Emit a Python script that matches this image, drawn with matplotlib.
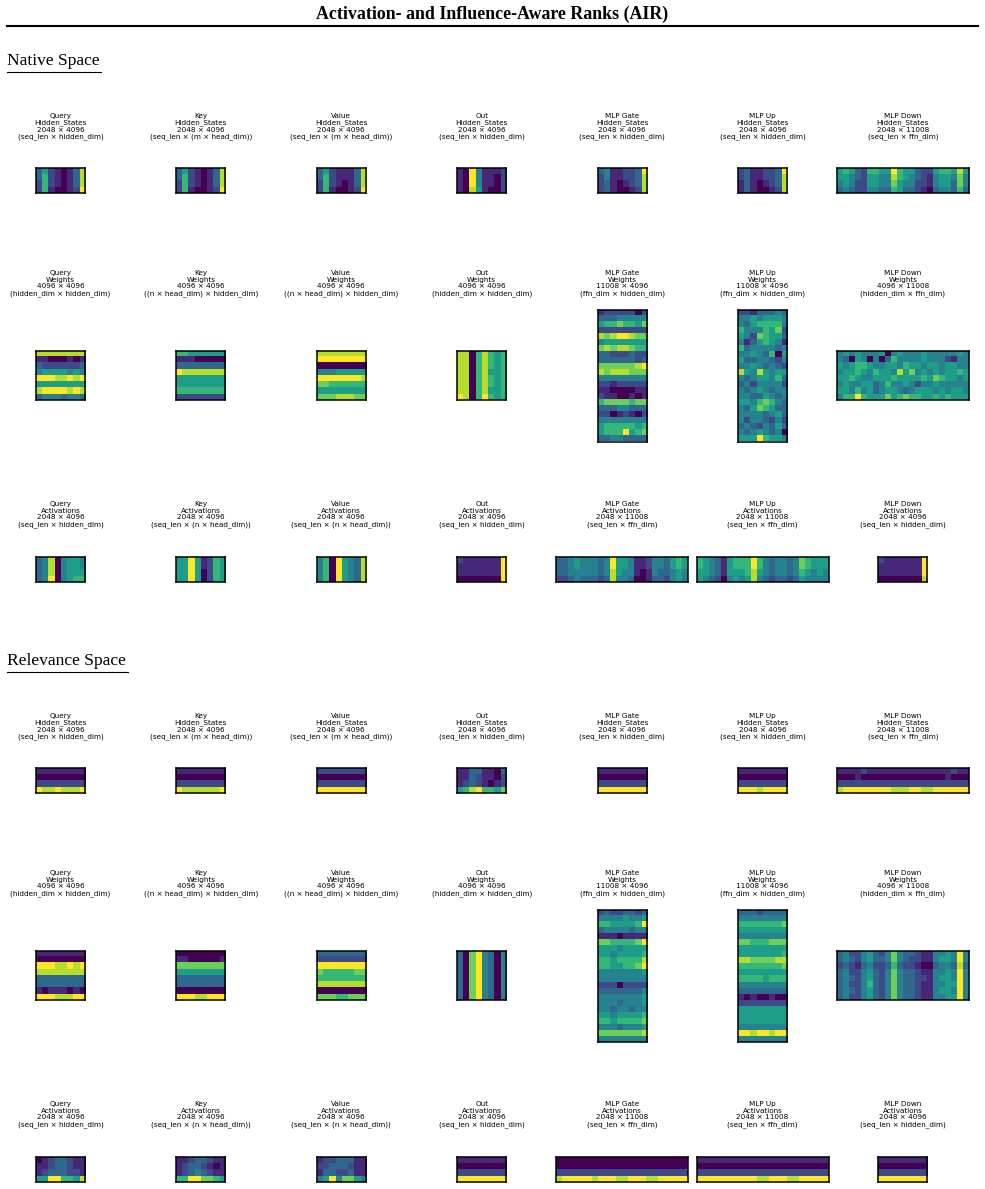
import numpy as np
import matplotlib
matplotlib.use("Agg")
import matplotlib.pyplot as plt
from matplotlib.lines import Line2D

plt.rcParams['font.family'] = ['DejaVu Sans']

W, H = 985, 1189

modules = ["Query", "Key", "Value", "Out", "MLP Gate", "MLP Up", "MLP Down"]
kinds = ["Hidden_States", "Weights", "Activations"]

hidden_shapes = [(2048, 4096)] * 6 + [(2048, 11008)]
hidden_dims = ["(seq_len \u00d7 hidden_dim)", "(seq_len \u00d7 (m \u00d7 head_dim))",
               "(seq_len \u00d7 (m \u00d7 head_dim))", "(seq_len \u00d7 hidden_dim)",
               "(seq_len \u00d7 hidden_dim)", "(seq_len \u00d7 hidden_dim)",
               "(seq_len \u00d7 ffn_dim)"]
weight_shapes = [(4096, 4096)] * 4 + [(11008, 4096), (11008, 4096), (4096, 11008)]
weight_dims = ["(hidden_dim \u00d7 hidden_dim)", "((n \u00d7 head_dim) \u00d7 hidden_dim)",
               "((n \u00d7 head_dim) \u00d7 hidden_dim)", "(hidden_dim \u00d7 hidden_dim)",
               "(ffn_dim \u00d7 hidden_dim)", "(ffn_dim \u00d7 hidden_dim)",
               "(hidden_dim \u00d7 ffn_dim)"]
act_shapes = [(2048, 4096)] * 4 + [(2048, 11008), (2048, 11008), (2048, 4096)]
act_dims = ["(seq_len \u00d7 hidden_dim)", "(seq_len \u00d7 (n \u00d7 head_dim))",
            "(seq_len \u00d7 (n \u00d7 head_dim))", "(seq_len \u00d7 hidden_dim)",
            "(seq_len \u00d7 ffn_dim)", "(seq_len \u00d7 ffn_dim)",
            "(seq_len \u00d7 hidden_dim)"]

# ---- native space on a 0..9 scale ----
nq_hs = ["35210138", "36210138", "26210138", "26100129"]
nk_hs = ["35210138", "36210138", "26210138", "26100129"]
nv_hs = ["35211138", "36211138", "26210138", "26100129"]
no_hs = ["10941112", "10941102", "10941102", "10851002"]
ng_hs = ["34112239", "24112238", "23101238", "23100128"]
nu_hs = ["23112239", "23112238", "13101238", "13100128"]
nd_hs = ["5653266559655322566585", "5543255448654321455474",
         "4542255447544221455374", "3432244336533210344363"]

nq_w = ["88888888", "11000101", "32222223", "45555454",
        "99988989", "55555555", "89999898", "34443443"]
nk_w = ["66555555", "11100000", "33333333", "98888888",
        "55555555", "55555555", "66666666", "22222222"]
nv_w = ["88888888", "99999999", "00000000", "44455555",
        "99999998", "77666666", "55555555", "77788877"]
no_w = ["88068656", "88068656", "88068656", "88068556",
        "88068656", "88068656", "88068556", "98069656"]
ng_w = ["12222202", "33344444", "56676657", "22222222", "87899877", "45555555",
        "78788766", "33222322", "33333323", "77777789", "87888777", "44444444",
        "22122222", "11000011", "21100101", "67777677", "33344333", "22012102",
        "44444444", "56666656", "56669567", "33443333"]
nu_w = ["22133343", "44545554", "43566664", "64446572", "54276553", "41356541",
        "63444434", "44543605", "53344324", "44543432", "85485455", "43455463",
        "34244442", "43454344", "44335434", "55467643", "43576533", "44443453",
        "42443242", "34324353", "43454340", "55596554"]
nd_w = ["4545444504544454444454", "4305404036444454442144",
        "5456654455465545545544", "4556546554857454545565",
        "5565445556555565765545", "4544553464454244544444",
        "5546453455434555454554", "4669655575676655656555"]

nq_a = ["34804554", "34804554", "34804555", "34904566"]
nk_a = ["55951265", "55951265", "55950265", "55950265"]
nv_a = ["46095438", "46095438", "46095438", "46095438"]
no_a = ["21111119", "11111119", "11111119", "00000009"]
ng_a = ["3345444349554112443565", "3345444349554112443565",
        "3344444348544101433454", "2234333238443001332454"]
nu_a = ["6543156669643443476555", "6543156669643443476555",
        "5543155568543443465454", "5432045458432332354444"]
nd_a = ["21111119", "11111119", "11111119", "00000008"]

# ---- relevance space ----
rq_hs = ["11111111", "00000000", "22222222", "98898889"]
rk_hs = ["11111111", "00000000", "22222222", "98888889"]
rv_hs = ["22222222", "00000000", "22222222", "99999999"]
ro_hs = ["11331103", "11321102", "12321012", "56896657"]
rg_hs = ["11111111", "00000000", "22222222", "99999999"]
ru_hs = ["11111111", "00000000", "22222222", "99989999"]
rd_hs = ["1111211111111111111211", "0001000000000000001000",
         "2222222222222222222222", "8999999998889988999999"]

rq_w = ["11111111", "00000000", "99988989", "88888888",
        "33333333", "33333333", "10111010", "99988899"]
rk_w = ["00000000", "11000001", "77777777", "55555555",
        "33333333", "33333333", "00000000", "99988999"]
rv_w = ["33333333", "22222222", "99999999", "76666677",
        "66666666", "88888888", "00000000", "77766777"]
ro_w = ["30794304", "30794304", "30794304", "30794304",
        "30794304", "30794304", "30794304", "30794304"]
rg_w = ["23223323", "44445445", "66555569", "34444344", "11101111", "77666679",
        "55545555", "55455556", "66566668", "66556679", "44444445", "44444444",
        "22202222", "33333334", "44444445", "44434445", "44344344", "55455556",
        "66566667", "44434445", "77777778", "44444444"]
ru_w = ["33323333", "44444444", "66666667", "55555555", "44444444", "77666777",
        "55555555", "55555556", "88777788", "66666667", "55555555", "66665666",
        "44444444", "33333333", "10100100", "22222222", "55555555", "55555555",
        "55555555", "44444444", "99899899", "44444444"]
rd_w = ["3422453247433211445494", "3432453347432211455494",
        "2321342236322100344383", "3422453247433211445494",
        "3432453247433221455494", "3422463247433211445594",
        "3432453247433211455494", "3422453247433211445594"]

rq_a = ["01233211", "11233211", "12333221", "55996658"]
rk_a = ["11233211", "12332101", "12343211", "66997765"]
rv_a = ["12233311", "22333211", "13322311", "45947754"]
ro_a = ["11111111", "00000000", "22222222", "99999999"]
rg_a = ["0000000000000000000000", "0000000000000000000000",
        "2222222222222222222222", "8999998999889998899999"]
ru_a = ["1111111111111111111111", "0000000000000000000000",
        "2222222222222222222222", "9999999999889998899999"]
rd_a = ["11111111", "00000000", "22222222", "99999999"]

native = [[nq_hs, nk_hs, nv_hs, no_hs, ng_hs, nu_hs, nd_hs],
          [nq_w, nk_w, nv_w, no_w, ng_w, nu_w, nd_w],
          [nq_a, nk_a, nv_a, no_a, ng_a, nu_a, nd_a]]
relevance = [[rq_hs, rk_hs, rv_hs, ro_hs, rg_hs, ru_hs, rd_hs],
             [rq_w, rk_w, rv_w, ro_w, rg_w, ru_w, rd_w],
             [rq_a, rk_a, rv_a, ro_a, rg_a, ru_a, rd_a]]
shapes = [hidden_shapes, weight_shapes, act_shapes]
dims = [hidden_dims, weight_dims, act_dims]

fig = plt.figure(figsize=(W / 100, H / 100), dpi=100)

scale = 132.0 / 11008
col_cx = [60.5 + 140.4 * i for i in range(7)]
row_cy = [180.5, 375.5, 569.5]
title_cy = [126.5, 283.5, 514.5]


def to_mat(rows):
    return np.array([[int(c) for c in r] for r in rows], dtype=float)


def draw_section(grid, off):
    for r in range(3):
        for c in range(7):
            nr, nc = shapes[r][c]
            w = nc * scale
            h = nr * scale
            left = col_cx[c] - w / 2
            top = row_cy[r] + off - h / 2
            ax = fig.add_axes([left / W, 1 - (top + h) / H, w / W, h / H])
            ax.imshow(to_mat(grid[r][c]), cmap='viridis', vmin=0, vmax=9,
                      aspect='auto', interpolation='nearest')
            ax.set_xticks([])
            ax.set_yticks([])
            for s in ax.spines.values():
                s.set_linewidth(1.1)
                s.set_color('black')
            label = "%s\n%s\n%d \u00d7 %d\n%s" % (modules[c], kinds[r], nr, nc, dims[r][c])
            fig.text(col_cx[c] / W, 1 - (title_cy[r] + off) / H, label,
                     ha='center', va='center', fontsize=5.2, linespacing=1.1)


fig.text(0.5, 1 - 14.5 / H, "Activation- and Influence-Aware Ranks (AIR)",
         ha='center', va='center', fontsize=12.9, fontweight='bold',
         family='Liberation Serif')
fig.add_artist(Line2D([7 / W, 978 / W], [1 - 26 / H] * 2, color='black', lw=1.5))

for name, y, x1 in [("Native Space", 61, 101), ("Relevance Space", 661, 128)]:
    fig.text(7 / W, 1 - y / H, name, ha='left', va='center', fontsize=12.6,
             family='Liberation Serif')
    fig.add_artist(Line2D([7 / W, x1 / W], [1 - (y + 11) / H] * 2, color='black', lw=0.8))

draw_section(native, 0)
draw_section(relevance, 600)

fig.savefig("out.png", dpi=100)
